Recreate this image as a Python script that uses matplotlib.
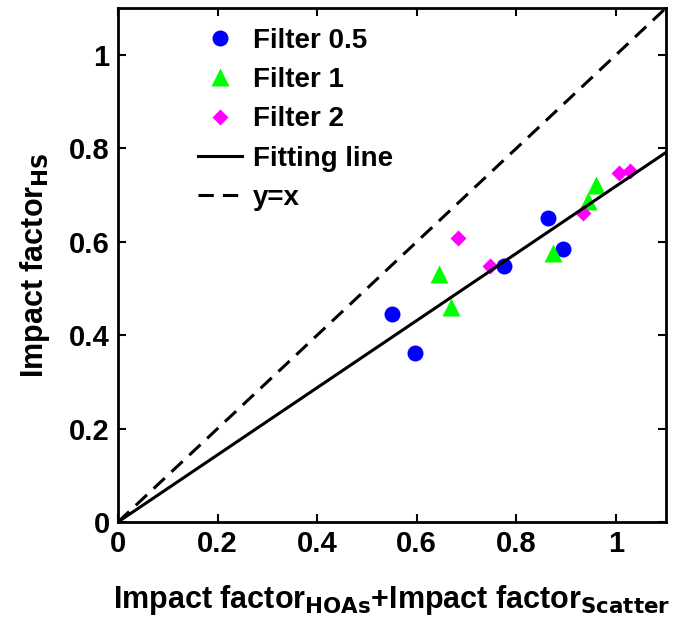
import numpy as np
import matplotlib
matplotlib.use("Agg")
import matplotlib.pyplot as plt

# values
f05_x = [0.551, 0.596, 0.776, 0.864, 0.894]
f05_y = [0.445, 0.361, 0.548, 0.651, 0.585]
f1_x = [0.645, 0.669, 0.873, 0.944, 0.959]
f1_y = [0.530, 0.461, 0.575, 0.687, 0.721]
f2_x = [0.683, 0.748, 0.934, 1.006, 1.028]
f2_y = [0.608, 0.548, 0.662, 0.748, 0.751]
fit_slope = 0.719
xticks = [0, 0.2, 0.4, 0.6, 0.8, 1]
yticks = [0, 0.2, 0.4, 0.6, 0.8, 1]

plt.rcParams["font.family"] = ["Liberation Sans Narrow", "Liberation Sans", "DejaVu Sans"]
plt.rcParams["font.weight"] = "bold"

fig = plt.figure(figsize=(6.8, 6.25), dpi=100)
ax = fig.add_axes([0.1735, 0.1648, 0.8055, 0.822])

ax.plot(f05_x, f05_y, "o", color="#0000FF", ms=11.5, mec="none", label="Filter 0.5")
ax.plot(f1_x, f1_y, "^", color="#00FF00", ms=12.5, mec="none", label="Filter 1")
ax.plot(f2_x, f2_y, "D", color="#FF00FF", ms=8.5, mec="none", label="Filter 2")

xs = np.array([0, 1.1])
ax.plot(xs, fit_slope * xs, "-", color="black", lw=2.2, label="Fitting line")
ax.plot(xs, xs, "--", color="black", lw=2.2, dashes=(5, 3), label="y=x")

ax.set_xlim(0, 1.1)
ax.set_ylim(0, 1.1)
ax.set_xticks(xticks)
ax.set_yticks(yticks)
ax.set_xticklabels([f"{v:g}" for v in xticks])
ax.set_yticklabels([f"{v:g}" for v in yticks])
ax.tick_params(direction="in", top=True, right=True, length=6, width=1.5,
               labelsize=21, pad=6)
for s in ax.spines.values():
    s.set_linewidth(2)

ax.set_xlabel(r"Impact factor$_{\mathbf{HOAs}}$+Impact factor$_{\mathbf{Scatter}}$",
              fontsize=22, fontweight="bold", labelpad=18)
ax.set_ylabel(r"Impact factor$_{\mathbf{HS}}$", fontsize=22, fontweight="bold", labelpad=12)

ax.legend(loc="upper left", bbox_to_anchor=(0.11, 1.0), frameon=False, fontsize=20,
          handlelength=1.6, handletextpad=0.4, labelspacing=0.48, borderaxespad=0.3)

fig.savefig("out.png", dpi=100)
